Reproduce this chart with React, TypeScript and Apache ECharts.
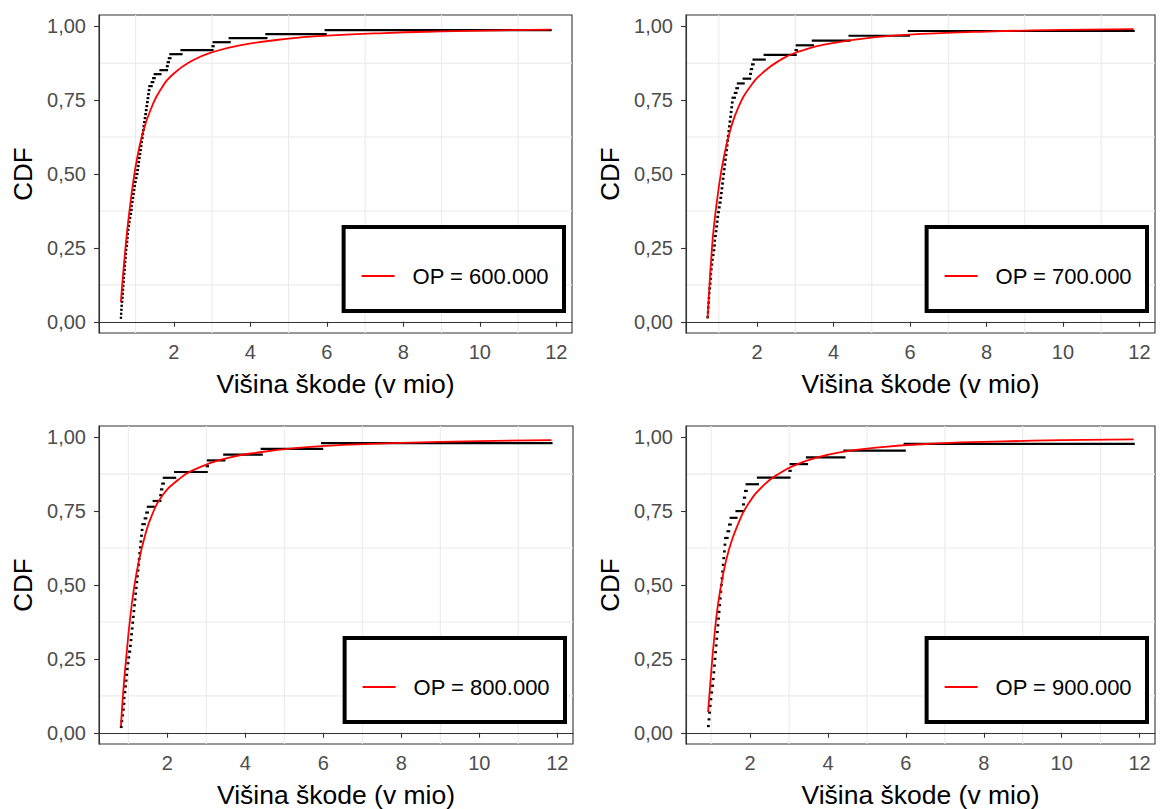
import React, { useEffect, useRef } from "react";
import * as echarts from "echarts";

// Claim amounts (v mio), sorted, read from the empirical CDF steps
const claims = [
  0.615, 0.62, 0.625, 0.632, 0.64, 0.65, 0.66, 0.665, 0.672, 0.68,
  0.69, 0.695, 0.705, 0.715, 0.72, 0.73, 0.74, 0.748, 0.755, 0.77,
  0.78, 0.79, 0.797, 0.81, 0.825, 0.84, 0.86, 0.88, 0.895, 0.898,
  0.92, 0.935, 0.95, 0.965, 0.98, 1.0, 1.02, 1.045, 1.06, 1.075,
  1.09, 1.105, 1.12, 1.135, 1.15, 1.165, 1.18, 1.195, 1.21, 1.225,
  1.24, 1.255, 1.27, 1.285, 1.3, 1.315, 1.33, 1.345, 1.36, 1.42,
  1.46, 1.5, 1.65, 1.82, 1.84, 1.87, 1.91, 2.2, 3.01, 3.04,
  3.46, 4.42, 5.97, 11.85,
];

const thresholds = [0.6, 0.7, 0.8, 0.9];
const legendLabels = ["OP = 600.000", "OP = 700.000", "OP = 800.000", "OP = 900.000"];

// Fitted CDF curves (red)
const fitted600 = [
  [0.615, 0.067], [0.65, 0.125], [0.7, 0.2], [0.75, 0.27], [0.83, 0.365], [0.94, 0.475],
  [1.05, 0.56], [1.2, 0.645], [1.4, 0.72], [1.65, 0.785], [2.0, 0.84], [2.5, 0.885],
  [3.0, 0.912], [3.8, 0.937], [5.0, 0.958], [6.0, 0.968], [7.5, 0.977], [9.0, 0.9825],
  [10.5, 0.9862], [11.85, 0.9885],
];
const fitted700 = [
  [0.705, 0.01], [0.75, 0.11], [0.8, 0.21], [0.87, 0.32], [1.0, 0.455], [1.13, 0.555],
  [1.3, 0.648], [1.52, 0.728], [1.82, 0.795], [2.17, 0.845], [2.6, 0.885], [3.04, 0.912],
  [3.9, 0.941], [5.18, 0.964], [6.5, 0.975], [8.0, 0.982], [10.0, 0.9875], [11.85, 0.9905],
];
const fitted800 = [
  [0.81, 0.022], [0.87, 0.14], [0.96, 0.275], [1.04, 0.38], [1.13, 0.475], [1.26, 0.575],
  [1.43, 0.668], [1.6, 0.735], [1.86, 0.8], [2.28, 0.856], [2.71, 0.891], [3.56, 0.93],
  [4.42, 0.95], [5.27, 0.963], [6.5, 0.974], [8.0, 0.981], [10.0, 0.987], [11.85, 0.9905],
];
const fitted900 = [
  [0.92, 0.07], [1.0, 0.205], [1.08, 0.325], [1.17, 0.43], [1.3, 0.532], [1.46, 0.622],
  [1.68, 0.703], [1.93, 0.77], [2.35, 0.838], [2.78, 0.88], [3.2, 0.908], [3.62, 0.928],
  [4.3, 0.949], [5.31, 0.966], [6.84, 0.979], [8.5, 0.986], [10.0, 0.99], [11.85, 0.993],
];
const fittedCurves = [fitted600, fitted700, fitted800, fitted900];

const xTickValues = [2, 4, 6, 8, 10, 12];
const yTickValues = [0, 0.25, 0.5, 0.75, 1];
const xMinorGrid = [1, 3, 5, 7, 9, 11];
const yMinorGrid = [0.125, 0.375, 0.625, 0.875];

const FONT = "'Liberation Sans', Arial, Helvetica, sans-serif";
const W = 1161;
const H = 809;
const Y_MIN = -0.038;
const Y_MAX = 1.038;

const panels = [
  { left: 99, top: 15, width: 473, height: 318, xMin: 0.043, xMax: 12.41 },
  { left: 686, top: 15, width: 469, height: 318, xMin: 0.1425, xMax: 12.4075 },
  { left: 99, top: 426, width: 474, height: 318, xMin: 0.2475, xMax: 12.4025 },
  { left: 686, top: 426, width: 469, height: 318, xMin: 0.3525, xMax: 12.3975 },
];

function ecdfSegments(values: number[]) {
  const n = values.length;
  const segs: number[][] = [];
  for (let i = 0; i <= n; i++) {
    const xs = i === 0 ? values[0] : values[i - 1];
    const xe = i === n ? values[n - 1] : values[i];
    segs.push([xs, xe, i / n]);
  }
  return segs;
}

export default function App() {
  const ref = useRef<HTMLDivElement>(null);

  useEffect(() => {
    if (!ref.current) return;
    const chart = echarts.init(ref.current, null, { renderer: "svg" });

    const grid: any[] = [];
    const xAxis: any[] = [];
    const yAxis: any[] = [];
    const series: any[] = [];
    const legend: any[] = [];

    panels.forEach((p, i) => {
      grid.push({
        left: p.left,
        top: p.top,
        width: p.width,
        height: p.height,
        show: true,
        borderColor: "#333333",
        borderWidth: 1.1,
        backgroundColor: "#ffffff",
      });
      xAxis.push({
        gridIndex: i,
        type: "value",
        min: p.xMin,
        max: p.xMax,
        axisLine: { show: true, lineStyle: { color: "#333333", width: 1.1 } },
        splitLine: { show: false },
        axisTick: {
          show: true,
          length: 5,
          customValues: xTickValues,
          lineStyle: { color: "#333333", width: 1.1 },
        },
        axisLabel: {
          customValues: xTickValues,
          color: "#4D4D4D",
          fontSize: 20,
          fontFamily: FONT,
          margin: 9,
          formatter: (v: number) => String(v),
        },
        name: "Višina škode (v mio)",
        nameLocation: "middle",
        nameGap: 37,
        nameTextStyle: { fontSize: 26.5, color: "#000000", fontFamily: FONT },
      });
      yAxis.push({
        gridIndex: i,
        type: "value",
        min: Y_MIN,
        max: Y_MAX,
        axisLine: { show: true, lineStyle: { color: "#333333", width: 1.1 } },
        splitLine: { show: false },
        axisTick: {
          show: true,
          length: 5,
          customValues: yTickValues,
          lineStyle: { color: "#333333", width: 1.1 },
        },
        axisLabel: {
          customValues: yTickValues,
          color: "#4D4D4D",
          fontSize: 20,
          fontFamily: FONT,
          margin: 13,
          formatter: (v: number) => v.toFixed(2).replace(".", ","),
        },
        name: "CDF",
        nameLocation: "middle",
        nameRotate: 90,
        nameGap: 63,
        nameTextStyle: { fontSize: 26, color: "#000000", fontFamily: FONT },
      });

      // minor grid lines (vertical)
      series.push({
        type: "custom",
        xAxisIndex: i,
        yAxisIndex: i,
        silent: true,
        z: 0,
        data: xMinorGrid.map((v) => [v, 0]),
        renderItem: (params: any, api: any) => {
          const cs = params.coordSys;
          const x = api.coord([api.value(0), 0])[0];
          return {
            type: "line",
            shape: { x1: x, y1: cs.y, x2: x, y2: cs.y + cs.height },
            style: { stroke: "#EBEBEB", lineWidth: 1.1 },
          };
        },
      });
      // minor grid lines (horizontal)
      series.push({
        type: "custom",
        xAxisIndex: i,
        yAxisIndex: i,
        silent: true,
        z: 0,
        data: yMinorGrid.map((v) => [1, v]),
        renderItem: (params: any, api: any) => {
          const cs = params.coordSys;
          const y = api.coord([1, api.value(1)])[1];
          return {
            type: "line",
            shape: { x1: cs.x, y1: y, x2: cs.x + cs.width, y2: y },
            style: { stroke: "#EBEBEB", lineWidth: 1.1 },
          };
        },
      });

      // empirical CDF
      const vals = claims.filter((c) => c > thresholds[i]);
      series.push({
        type: "custom",
        name: "ecdf" + i,
        xAxisIndex: i,
        yAxisIndex: i,
        silent: true,
        z: 2,
        data: ecdfSegments(vals),
        renderItem: (params: any, api: any) => {
          const a = api.coord([api.value(0), api.value(2)]);
          const b = api.coord([api.value(1), api.value(2)]);
          return {
            type: "line",
            shape: { x1: a[0], y1: a[1], x2: b[0], y2: b[1] },
            style: { stroke: "#000000", lineWidth: 2.2, lineCap: "square" },
          };
        },
      });

      // fitted CDF
      series.push({
        type: "line",
        name: legendLabels[i],
        xAxisIndex: i,
        yAxisIndex: i,
        data: fittedCurves[i],
        showSymbol: false,
        smooth: 0.5,
        color: "#FF0000",
        itemStyle: { color: "#FF0000" },
        lineStyle: { color: "#FF0000", width: 1.8 },
        z: 3,
        silent: true,
      });

      const boxRight = p.left + p.width - 8;
      const boxBottom = p.top + p.height - 22;
      legend.push({
        data: [legendLabels[i]],
        right: W - boxRight,
        bottom: H - boxBottom,
        orient: "horizontal",
        padding: [38, 15, 24, 18],
        borderColor: "#000000",
        borderWidth: 4,
        borderRadius: 0,
        backgroundColor: "#ffffff",
        icon: "rect",
        itemWidth: 33,
        itemHeight: 2,
        selectedMode: false,
        textStyle: {
          fontSize: 22,
          color: "#000000",
          fontFamily: FONT,
          padding: [0, 0, 0, 13],
        },
      });
    });

    chart.setOption({
      animation: false,
      backgroundColor: "#ffffff",
      textStyle: { fontFamily: FONT },
      grid,
      xAxis,
      yAxis,
      series,
      legend,
    });

    return () => {
      chart.dispose();
    };
  }, []);

  return (
    <div
      ref={ref}
      style={{ position: "fixed", left: 0, top: 0, width: W, height: H, background: "#fff" }}
    />
  );
}
